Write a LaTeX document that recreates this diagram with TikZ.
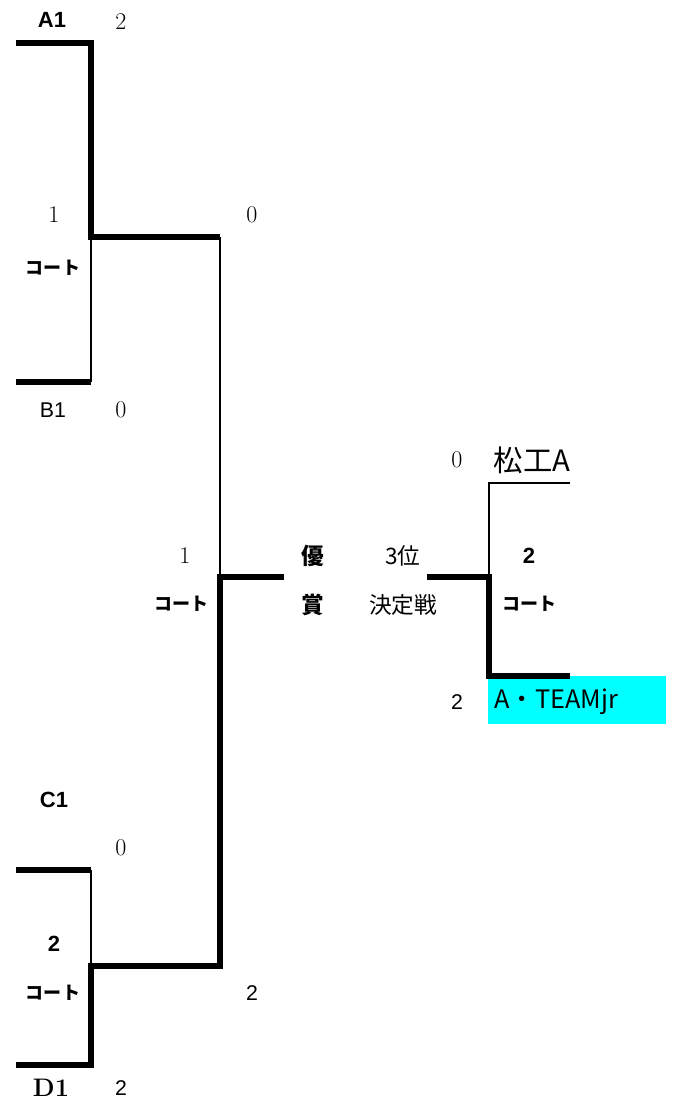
\documentclass[tikz,border=0pt]{standalone}
\usepackage{fontspec}
\usepackage{tikz}
\newfontfamily\jp{Noto Sans CJK JP}
\newfontfamily\arialfont{Liberation Sans}
\definecolor{winbox}{RGB}{0,255,255}
\usetikzlibrary{positioning}

\begin{document}
\begin{tikzpicture}[
                x=0.75pt, y=-0.75pt,
                win/.style={line width=4pt, line join=miter},
                lose/.style={line width=0.8pt},
                team/.style={font=\arialfont\fontsize{16}{17}\selectfont},
                teamb/.style={font=\arialfont\bfseries\fontsize{16.5}{17}\selectfont},
                pts/.style={font=\fontsize{18}{19}\selectfont},
                ptsans/.style={font=\arialfont\fontsize{16}{17}\selectfont},
                court/.style={font=\jp\bfseries\fontsize{13.5}{14}\selectfont},
                title/.style={font=\jp\fontsize{17}{18}\selectfont},
                titleb/.style={font=\jp\bfseries\fontsize{17}{18}\selectfont}
            ]
                \useasboundingbox (0,0) rectangle (672,1102);
                % corners of the bracket
                \coordinate (a1) at (16,43);
                \coordinate (a1k) at (91,43);
                \coordinate (m1) at (91,237);
                \coordinate (s1) at (220,237);
                \coordinate (b1) at (16,382);
                \coordinate (b1k) at (91,382);
                \coordinate (fin) at (220,577);
                \coordinate (finr) at (284,577);
                \coordinate (c1) at (16,870);
                \coordinate (c1k) at (91,870);
                \coordinate (m2) at (91,966);
                \coordinate (s2) at (220,966);
                \coordinate (d1) at (16,1065);
                \coordinate (d1k) at (91,1065);
                \coordinate (thl) at (427,577);
                \coordinate (thk) at (489,577);
                \coordinate (thu) at (489,483);
                \coordinate (thur) at (570,483);
                \coordinate (thdk) at (489,676);
                \coordinate (thd) at (570,676);
                % winner box
                \node[anchor=north west, fill=winbox, minimum width=133.5pt, minimum height=36pt,
                      inner sep=0pt, outer sep=0pt] (atbox) at (488,676) {};
                \node[anchor=west, inner sep=0pt, font=\jp\fontsize{19}{20}\selectfont] (atj) at (494,702) {A・TEAMjr};
                % lines
                \draw[win] (a1) -- (a1k) -- (m1) -- (s1);
                \draw[lose] (m1) -- (b1k);
                \draw[win] (b1k) -- (b1);
                \draw[lose] (s1) -- (fin);
                \draw[win] (finr) -- (fin) -- (s2) -- (m2) -- (d1k) -- (d1);
                \draw[lose] (m2) -- (c1k);
                \draw[win] (c1k) -- (c1);
                \draw[win] (thl) -- (thk) -- (thdk) -- (thd);
                \draw[lose] (thk) -- (thu) -- (thur);
                % teams and scores
                \node[teamb] (ta1) at (52,20) {A1};
                \node[pts] (sa1) at (121,22) {2};
                \node[team] (tb1) at (53,410) {B1};
                \node[pts] (sb1) at (121,410) {0};
                \node[teamb] (tc1) at (54,800) {C1};
                \node[pts] (sc1) at (121,848) {0};
                \node[font=\bfseries\fontsize{19}{20}\selectfont] (td1) at (51,1088) {D1};
                \node[ptsans] (sd1) at (121,1088) {2};
                \node[pts] (s1u) at (252,215) {0};
                \node[ptsans] (s2d) at (252,993) {2};
                \node[pts] (thus) at (457,460) {0};
                \node[font=\jp\fontsize{22}{23}\selectfont] (mtA) at (532,460) {松工A};
                \node[ptsans] (thds) at (457,702) {2};
                % courts
                \node[pts] (k1n) at (54,215) {1};
                \node[court] (k1) at (53,268) {コート};
                \node[teamb] (k2n) at (54,944) {2};
                \node[court] (k2) at (53,993) {コート};
                \node[pts] (kfn) at (185,556) {1};
                \node[court] (kf) at (181,604) {コート};
                \node[teamb] (ktn) at (529,556) {2};
                \node[court] (kt) at (529,604) {コート};
                % titles
                \node[titleb] (yu) at (313,556) {優};
                \node[titleb] (sho) at (313,605) {賞};
                \node[title] (san) at (403,556) {3位};
                \node[title] (kettei) at (403,605) {決定戦};
            \end{tikzpicture}
\end{document}
